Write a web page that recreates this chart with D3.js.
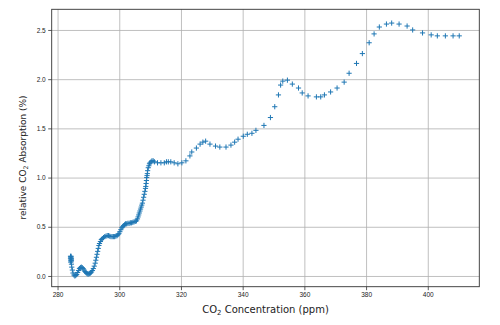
<!DOCTYPE html>
<html>
<head>
<meta charset="utf-8">
<script src="https://cdn.jsdelivr.net/npm/d3@7"></script>
<style>
  body { margin: 0; background: #fff; }
  svg { font-family: "DejaVu Sans", sans-serif; }
  .grid line { stroke: #b0b0b0; stroke-width: 0.8; }
  .grid path { display: none; }
  .axis path { display: none; }
  .axis line { stroke: #333; stroke-width: 0.8; }
  .axis text { fill: #222; font-size: 6.5px; }
</style>
</head>
<body>
<div id="chart"></div>
<script>
// CO2 concentration (ppm)
let co2 = [
  284.2, 284.2, 284.3, 284.3, 284.4, 284.4, 284.5, 284.5, 284.3, 284.4,
  284.5, 284.6, 284.8, 285.0, 285.3, 285.6, 285.9, 286.2, 286.5, 286.8,
  287.1, 287.4, 287.7, 288.0, 288.3, 288.6, 288.9, 289.2, 289.5, 289.8,
  290.1, 290.4, 290.7, 291.0, 291.3, 291.6, 291.9, 292.2, 292.4, 292.6,
  292.8, 293.0, 293.2, 293.4, 293.6, 293.9, 294.2, 294.5, 294.9, 295.3,
  295.7, 296.1, 296.5, 296.9, 297.3, 297.7, 298.1, 298.5, 298.9, 299.3,
  299.6, 299.9, 300.2, 300.5, 300.8, 301.1, 301.4, 301.7, 302.0, 302.4,
  302.8, 303.2, 303.6, 304.0, 304.4, 304.8, 305.2, 305.6, 305.9, 306.1,
  306.3, 306.5, 306.7, 306.9, 307.1, 307.3, 307.5, 307.7, 307.9, 308.1,
  308.3, 308.5, 308.6, 308.7, 308.8, 308.9, 309.0, 309.1, 309.2, 309.4,
  309.6, 309.8, 310.0, 310.3, 310.6, 311.0, 311.4, 312.4, 313.5, 314.6,
  315.3, 315.9, 316.7, 317.8, 319.0, 320.3, 321.6, 322.9, 323.5, 325.0,
  326.2, 327.1, 328.0, 329.4, 331.2, 332.6, 334.6, 336.2, 337.4, 338.5,
  340.2, 341.5, 343.0, 344.3, 346.9, 349.0, 350.4, 351.6, 352.3, 353.0,
  354.5, 356.1, 358.1, 359.3, 361.2, 363.9, 365.3, 366.5, 368.5, 370.6,
  372.9, 374.5, 376.9, 378.8, 381.0, 382.6, 384.3, 386.6, 388.3, 390.7,
  393.3, 395.1, 398.3, 401.1, 403.1, 405.7, 408.2, 410.2
];

// relative CO2 absorption (%)
let absorption = [
  0.20, 0.18, 0.16, 0.19, 0.17, 0.15, 0.18, 0.16, 0.14, 0.20,
  0.12, 0.09, 0.06, 0.03, 0.01, 0.00, 0.005, 0.015, 0.035, 0.055,
  0.075, 0.085, 0.09, 0.085, 0.075, 0.06, 0.045, 0.035, 0.025, 0.02,
  0.02, 0.025, 0.03, 0.04, 0.055, 0.075, 0.10, 0.13, 0.16, 0.19,
  0.22, 0.25, 0.28, 0.31, 0.33, 0.35, 0.37, 0.38, 0.39, 0.40,
  0.405, 0.41, 0.41, 0.405, 0.40, 0.40, 0.40, 0.40, 0.405, 0.41,
  0.42, 0.43, 0.45, 0.47, 0.49, 0.50, 0.51, 0.52, 0.53, 0.53,
  0.535, 0.535, 0.54, 0.54, 0.545, 0.55, 0.555, 0.56, 0.58, 0.60,
  0.62, 0.64, 0.66, 0.68, 0.70, 0.72, 0.74, 0.77, 0.80, 0.83,
  0.86, 0.89, 0.91, 0.94, 0.97, 1.00, 1.02, 1.04, 1.07, 1.10,
  1.12, 1.14, 1.15, 1.16, 1.17, 1.17, 1.16, 1.15, 1.15, 1.15,
  1.16, 1.16, 1.16, 1.15, 1.14, 1.15, 1.17, 1.22, 1.26, 1.30,
  1.34, 1.36, 1.37, 1.34, 1.32, 1.31, 1.31, 1.33, 1.36, 1.39,
  1.42, 1.44, 1.45, 1.48, 1.53, 1.61, 1.72, 1.84, 1.94, 1.98,
  1.99, 1.95, 1.91, 1.86, 1.83, 1.82, 1.82, 1.84, 1.87, 1.91,
  1.97, 2.06, 2.16, 2.26, 2.37, 2.46, 2.53, 2.56, 2.57, 2.56,
  2.54, 2.50, 2.47, 2.45, 2.44, 2.44, 2.44, 2.44
];

let xTicks = [280, 300, 320, 340, 360, 380, 400];
let yTicks = [0.0, 0.5, 1.0, 1.5, 2.0, 2.5];

let width = 500;
let height = 325;
let plotLeft = 51.7, plotRight = 479.3, plotTop = 9.3, plotBottom = 286.7;

let svg = d3.select("#chart")
            .append("svg")
            .attr("width", width)
            .attr("height", height);

let xScale = d3.scaleLinear()
               .domain([278.1, 416.7])
               .range([plotLeft, plotRight]);

let yScale = d3.scaleLinear()
               .domain([-0.109, 2.71])
               .range([plotBottom, plotTop]);

// grid lines
svg.append("g")
   .attr("class", "grid")
   .attr("transform", `translate(0, ${plotBottom})`)
   .call(d3.axisBottom(xScale).tickValues(xTicks).tickSize(-(plotBottom - plotTop)).tickFormat(""));

svg.append("g")
   .attr("class", "grid")
   .attr("transform", `translate(${plotLeft}, 0)`)
   .call(d3.axisLeft(yScale).tickValues(yTicks).tickSize(-(plotRight - plotLeft)).tickFormat(""));

// points drawn as plus markers
let pts = co2.map((x, i) => [x, absorption[i]]);
let arm = 2.6;
svg.append("g")
   .selectAll("path")
   .data(pts)
   .enter()
   .append("path")
   .attr("d", d => {
     let cx = xScale(d[0]), cy = yScale(d[1]);
     return `M${cx - arm},${cy}H${cx + arm}M${cx},${cy - arm}V${cy + arm}`;
   })
   .attr("stroke", "#1f77b4")
   .attr("stroke-width", 1)
   .attr("fill", "none");

// frame
svg.append("rect")
   .attr("x", plotLeft)
   .attr("y", plotTop)
   .attr("width", plotRight - plotLeft)
   .attr("height", plotBottom - plotTop)
   .attr("fill", "none")
   .attr("stroke", "#333")
   .attr("stroke-width", 0.9);

// axes
svg.append("g")
   .attr("class", "axis")
   .attr("transform", `translate(0, ${plotBottom})`)
   .call(d3.axisBottom(xScale).tickValues(xTicks).tickSize(3.5).tickPadding(2.5).tickFormat(d3.format("d")));

svg.append("g")
   .attr("class", "axis")
   .attr("transform", `translate(${plotLeft}, 0)`)
   .call(d3.axisLeft(yScale).tickValues(yTicks).tickSize(3.5).tickPadding(2.5).tickFormat(d3.format(".1f")));

// axis titles
let xTitle = svg.append("text")
   .attr("x", (plotLeft + plotRight) / 2)
   .attr("y", 313)
   .attr("text-anchor", "middle")
   .attr("font-size", "10px")
   .attr("fill", "#222");
xTitle.append("tspan").text("CO");
xTitle.append("tspan").attr("font-size", "7px").attr("dy", 2).text("2");
xTitle.append("tspan").attr("dy", -2).text(" Concentration (ppm)");

let yTitle = svg.append("text")
   .attr("transform", `translate(25.5, 157.5) rotate(-90)`)
   .attr("text-anchor", "middle")
   .attr("font-size", "9px")
   .attr("fill", "#222");
yTitle.append("tspan").text("relative CO");
yTitle.append("tspan").attr("font-size", "6.3px").attr("dy", 2).text("2");
yTitle.append("tspan").attr("dy", -2).text(" Absorption (%)");
</script>
</body>
</html>
